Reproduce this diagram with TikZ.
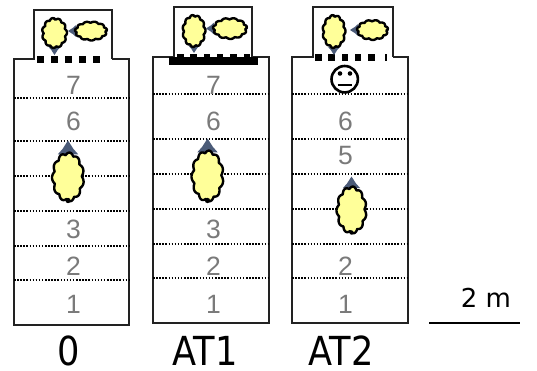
\documentclass[tikz,border=0pt]{standalone}
\usepackage{fontspec}
\setmainfont{Liberation Sans}
\newfontfamily\capfont[FakeStretch=0.88]{DejaVu Sans}
\newfontfamily\barfont{DejaVu Sans}
\definecolor{wool}{HTML}{FFFF99}
\definecolor{hatcol}{HTML}{4B5B78}
\definecolor{numgray}{HTML}{7A7A7A}
\definecolor{framecol}{HTML}{222222}
\tikzset{
  frame/.style={draw=framecol, line width=1.5pt, line join=miter},
  rowline/.style={line width=1.6pt, dash pattern=on 1.5pt off 1.6pt},
  rownum/.style={text=numgray, font=\fontsize{26.5}{26.5}\selectfont, inner sep=0pt, anchor=center},
  caption/.style={font=\capfont\fontsize{40}{40}\selectfont, inner sep=0pt, anchor=center},
  doorsq/.style={fill=black},
  % sheep seen from above, head up: #1 half width, #2 half length, #3 head size
  pics/sheep/.style n args={3}{code={
    \fill[hatcol] (0,{-#2-#3}) -- ({0.45*#3},{-#2-0.3*#3}) -- ({0.85*#3},{-#2+0.15*#3})
      -- ({-0.85*#3},{-#2+0.15*#3}) -- ({-0.45*#3},{-#2-0.3*#3}) -- cycle;
    \draw[fill=wool, line width=2.4pt, line join=round]
      plot[domain=0:359, samples=240, variable=\t]
      ({#1*cos(\t)*(0.86+0.14*abs(sin(5.5*\t+10)))},{#2*sin(\t)*(0.9+0.1*abs(sin(5.5*\t+10)))}) -- cycle;
    \fill (0,{#2-1}) circle ({0.22*#3});
  }}
}
\begin{document}
\begin{tikzpicture}[x=1pt,y=-1pt]
\useasboundingbox (0,0) rectangle (537,370);

% ---------- pen 0 ----------
\draw[frame] (112,59) -- (129,59) -- (129,325) -- (14,325) -- (14,59) -- (34,59)
  -- (34,10) -- (112,10) -- (112,59);
\foreach \yy in {98,141,176,211,246,280}
  \draw[rowline] (14,\yy) -- (129,\yy);
\foreach \xx in {37,51,65,79,93}
  \fill[doorsq] (\xx,55.5) rectangle ++(6.5,7);
\node[rownum] (a7) at (73.5,85) {7};
\node[rownum] (a6) at (73.5,121) {6};
\node[rownum] (a3) at (73.5,229) {3};
\node[rownum] (a2) at (73.5,266.5) {2};
\node[rownum] (a1) at (73.5,304) {1};
\pic at (68,177) {sheep={16}{24.5}{12}};
\pic[rotate=180] at (54.5,33) {sheep={12.5}{15}{7}};
\pic[rotate=90] at (91,31) {sheep={9.5}{16}{7}};
\node[caption] (c0) at (69,350.5) {0};

% ---------- pen AT1 ----------
\draw[frame] (252,57) -- (269,57) -- (269,323) -- (153,323) -- (153,57) -- (174,57)
  -- (174,7) -- (252,7) -- (252,57);
\foreach \yy in {94,139,174,209,244,278}
  \draw[rowline] (153,\yy) -- (269,\yy);
\foreach \xx in {177,190.3,203.6,216.9,230.2,243.5}
  \fill[doorsq] (\xx,53.5) rectangle ++(6.5,7);
\fill (169,57) rectangle (258,65);
\node[rownum] (b7) at (213.5,85) {7};
\node[rownum] (b6) at (213.5,121) {6};
\node[rownum] (b3) at (213.5,229) {3};
\node[rownum] (b2) at (213.5,266.5) {2};
\node[rownum] (b1) at (213.5,304) {1};
\pic at (207.5,176) {sheep={16}{25.5}{12}};
\pic[rotate=180] at (194,31) {sheep={11.5}{16}{6}};
\pic[rotate=90] at (230,28.5) {sheep={10.5}{17}{7}};
\node[caption] (c1) at (205,350.5) {AT1};

% ---------- pen AT2 ----------
\draw[frame] (393,57) -- (408,57) -- (408,323) -- (292,323) -- (292,57) -- (313,57)
  -- (313,7) -- (393,7) -- (393,57);
\foreach \yy in {94,139,174,209,244,278}
  \draw[rowline] (292,\yy) -- (408,\yy);
\foreach \xx in {315,328.3,341.6,354.9,368.2}
  \fill[doorsq] (\xx,53.5) rectangle ++(6.5,7);
\fill[doorsq] (385,53.5) rectangle ++(2,7);
\node[rownum] (d6) at (345.5,121) {6};
\node[rownum] (d5) at (345.5,156) {5};
\node[rownum] (d2) at (345.5,266.5) {2};
\node[rownum] (d1) at (345.5,304) {1};
\pic at (351.5,210) {sheep={15}{23.5}{10}};
\pic[rotate=180] at (334,31.5) {sheep={11.5}{16.5}{7}};
\pic[rotate=90] at (372.5,30) {sheep={10}{15.5}{7}};
% neutral face
\draw[line width=2.6pt] (344.7,79.2) circle (13.2);
\fill (340,73.5) circle (2.3);
\fill (350,73.5) circle (2.3);
\draw[line width=2.4pt] (337.5,85) -- (352,85);
\node[caption] (c2) at (341,350.5) {AT2};

% ---------- scale bar ----------
\coordinate (s0) at (429,323);
\coordinate (s1) at (520,323);
\draw[line width=2pt] (s0) -- (s1);
\node[font=\barfont\fontsize{26}{26}\selectfont, inner sep=0pt, anchor=center] (sb) at (486,297.5) {2 m};
\end{tikzpicture}
\end{document}
